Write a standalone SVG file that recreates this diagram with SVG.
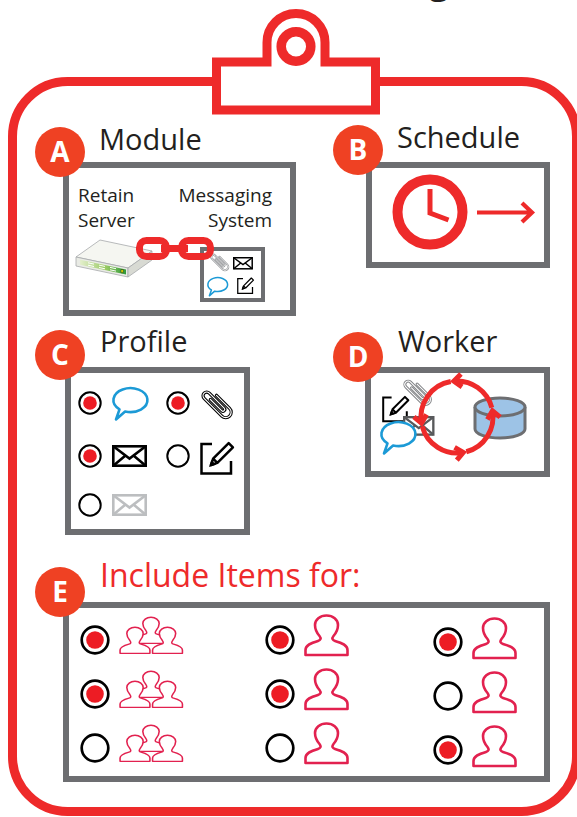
<svg xmlns="http://www.w3.org/2000/svg" xmlns:xlink="http://www.w3.org/1999/xlink" width="577" height="817" viewBox="0 0 577 817">
  <style>
    .hdr { font-family: "Open Sans", "Liberation Sans", sans-serif; font-size: 29px; fill: #231f20; }
    .lbl { font-family: "Open Sans", "Liberation Sans", sans-serif; font-size: 19px; fill: #231f20; }
    .badge circle { fill: #ef4123; }
    .badge text { font-family: "Open Sans", "Liberation Sans", sans-serif; font-size: 28px; font-weight: 700; fill: #fff; text-anchor: middle; }
    .box { fill: #fff; stroke: #6d6e71; stroke-width: 6; }
    .red { stroke: #ee2a2a; fill: none; }
    .rad { fill: #fff; stroke: #000; }
    .dot { fill: #ed1c24; }
    .person { fill: #fff; stroke: #e2214f; stroke-width: 2.6; stroke-linejoin: round; }
    .person.sm { stroke-width: 2.2; }
  </style>
  <defs>
    <linearGradient id="srvStrip" x1="0" y1="0" x2="1" y2="0">
      <stop offset="0" stop-color="#e4efcd"/>
      <stop offset="0.55" stop-color="#9ccb66"/>
      <stop offset="1" stop-color="#2f9a3b"/>
    </linearGradient>
    <!-- speech bubble, centred on the oval -->
    <g id="bubble">
      <path d="M-4.9,11.5 A17,12 0 1 0 -10.5,9.3 L-14,19.5 Z" fill="#fff" stroke="currentColor" stroke-width="2.6" stroke-linejoin="round"/>
    </g>
    <!-- envelope, 35 x 22 -->
    <g id="env" fill="none" stroke="currentColor" stroke-width="2.6">
      <rect x="1.3" y="1.3" width="32.4" height="19.4" fill="#fff"/>
      <path d="M1.3,1.3 L17.5,13.5 L33.7,1.3 M1.3,20.7 L13.5,10.5 M33.7,20.7 L21.5,10.5"/>
    </g>
    <!-- open square with pencil, 33 x 33 -->
    <g id="edit" fill="none" stroke="currentColor" stroke-width="2.5">
      <path d="M12,2 H1.5 V31.5 H31 V19"/>
      <path d="M11,23 L13.12,16.64 L28.68,1.08 L32.92,5.32 L17.36,20.88 Z M13.12,16.64 L17.36,20.88" fill="#fff" stroke-linejoin="round"/>
      <path d="M11,23 L11.9,20.3 L13.7,22.1 Z" fill="currentColor"/>
    </g>
    <!-- paperclip wire, drawn as an outlined wire -->
    <path id="clipWire" d="M-2.75,-10 L-2.75,14 A2.75,2.75 0 0 0 2.75,14 L2.75,-18 A5.5,5.5 0 0 0 -8.25,-18 L-8.25,20 A8.25,8.25 0 0 0 8.25,20 L8.25,-8"/>
    <g id="clip" fill="none" stroke-linecap="round">
      <use xlink:href="#clipWire" href="#clipWire" stroke="currentColor" stroke-width="5"/>
      <use xlink:href="#clipWire" href="#clipWire" stroke="#fff" stroke-width="1.8"/>
    </g>
    <!-- person silhouette, 45 x 41 -->
    <path id="person" d="M1.5,40 L1.5,35 C1.5,30 7,28 14,26 C16.5,25.3 17.5,23.5 15.5,21 C12.5,17.5 11,13.5 11,10 C11,4.5 16,0.5 22.5,0.5 C29,0.5 34,4.5 34,10 C34,13.5 32.5,17.5 29.5,21 C27.5,23.5 28.5,25.3 31,26 C38,28 43.5,30 43.5,35 L43.5,40 Z"/>
    <!-- group of three people, 64 x 37 -->
    <g id="group">
      <use xlink:href="#person" href="#person" class="person sm" transform="translate(16,0) scale(0.711,0.659)"/>
      <use xlink:href="#person" href="#person" class="person sm" transform="translate(0,10) scale(0.711,0.659)"/>
      <use xlink:href="#person" href="#person" class="person sm" transform="translate(32.5,10) scale(0.711,0.659)"/>
    </g>
  </defs>

  <!-- heading above the board (only its descender falls inside the frame) -->
  <text x="429" y="-7" font-family="'Open Sans', 'Liberation Sans', sans-serif" font-size="36" font-weight="700" fill="#231f20">g</text>

  <!-- clipboard -->
  <g id="clipboard">
    <rect x="12.5" y="81.5" width="564" height="730" rx="55" ry="55" fill="#fff" stroke="#ee2a2a" stroke-width="9"/>
    <path d="M216.5,62 L267,62 L267,42.5 A29,29 0 0 1 325,42.5 L325,62 L375.5,62 L375.5,110 L216.5,110 Z" fill="#fff" stroke="#ee2a2a" stroke-width="9"/>
    <circle cx="296" cy="46.5" r="14.8" fill="#fff" stroke="#ee2a2a" stroke-width="9.5"/>
  </g>

  <!-- A: Module -->
  <g id="module">
    <text class="hdr" x="99" y="150">Module</text>
    <rect class="box" x="66" y="165" width="227" height="148"/>
    <text class="lbl" x="78" y="202">Retain</text>
    <text class="lbl" x="78" y="227">Server</text>
    <text class="lbl" x="272" y="202" text-anchor="end">Messaging</text>
    <text class="lbl" x="272" y="227" text-anchor="end">System</text>
    <!-- server appliance -->
    <g id="server" stroke="#a7a9ac" stroke-width="0.8" stroke-linejoin="round">
      <polygon points="76,257 100,240 152,251 128,268" fill="#f5f6f1"/>
      <polygon points="76,257 128,268 128,277 76,266" fill="#e9ebe5"/>
      <polygon points="128,268 152,251 152,260 128,277" fill="#d8dad3"/>
      <polygon points="80,259.8 126,269.6 126,274.6 80,264.8" fill="url(#srvStrip)" stroke="none"/>
      <path d="M88,262.8 L94,264.1 M88,265.2 L94,266.5 M99,265.1 L105,266.4 M99,267.5 L105,268.8 M110,267.4 L116,268.7 M110,269.8 L116,271.1" stroke="#fff" stroke-width="1"/>
      <rect x="121" y="269.5" width="2.2" height="3.2" fill="#f5e400" stroke="#1d3f1f" stroke-width="0.6"/>
    </g>
    <!-- messaging system -->
    <rect x="202" y="249" width="61" height="51" fill="#fff" stroke="#6d6e71" stroke-width="4"/>
    <use xlink:href="#clip" href="#clip" color="#939598" transform="translate(220,262) rotate(-45) scale(0.4) translate(0,-2.4)"/>
    <use xlink:href="#env" href="#env" color="#000" transform="translate(233,257) scale(0.57)"/>
    <use xlink:href="#bubble" href="#bubble" color="#1c9ad6" transform="translate(217.5,284.5) scale(0.58)"/>
    <use xlink:href="#edit" href="#edit" color="#000" transform="translate(237,277.5) scale(0.5)"/>
    <!-- chain link -->
    <g id="chain" class="red" stroke-width="7">
      <rect x="139.5" y="240.5" width="27" height="16" rx="7"/>
      <rect x="181.5" y="240.5" width="29" height="16" rx="7"/>
      <line x1="161" y1="248.5" x2="188" y2="248.5" stroke-width="7"/>
    </g>
  </g>
  <g id="badge-a" class="badge"><circle cx="60" cy="152" r="25"/><text x="60" y="162">A</text></g>

  <!-- B: Schedule -->
  <g id="schedule">
    <text class="hdr" x="397" y="148">Schedule</text>
    <rect class="box" x="369" y="165" width="178" height="100"/>
    <circle cx="430" cy="212" r="32.5" fill="#fff" stroke="#ee2a2a" stroke-width="10"/>
    <path d="M430,189 L430,213 L448.5,220" class="red" stroke-width="5"/>
    <path d="M477,212.5 H532 M522,203 L532,212.5 L522,222" class="red" stroke-width="4.2"/>
  </g>
  <g id="badge-b" class="badge"><circle cx="358" cy="150" r="25"/><text x="358" y="160">B</text></g>

  <!-- C: Profile -->
  <g id="profile">
    <text class="hdr" x="100" y="352">Profile</text>
    <rect class="box" x="68" y="370" width="179" height="162"/>
    <g stroke-width="2">
      <circle class="rad" cx="90" cy="403" r="10.7"/><circle class="dot" cx="90" cy="403" r="6.8"/>
      <circle class="rad" cx="178" cy="403" r="10.7"/><circle class="dot" cx="178" cy="403" r="6.8"/>
      <circle class="rad" cx="90" cy="456" r="10.7"/><circle class="dot" cx="90" cy="456" r="6.8"/>
      <circle class="rad" cx="178" cy="456" r="10.7"/>
      <circle class="rad" cx="90" cy="505" r="10.7"/>
    </g>
    <use xlink:href="#bubble" href="#bubble" color="#1c9ad6" transform="translate(130,400)"/>
    <use xlink:href="#clip" href="#clip" color="#000" transform="translate(217.5,404) rotate(-45) scale(0.66) translate(0,-2.4)"/>
    <use xlink:href="#env" href="#env" color="#000" transform="translate(112,445)"/>
    <use xlink:href="#edit" href="#edit" color="#000" transform="translate(200,442)"/>
    <use xlink:href="#env" href="#env" color="#bcbec0" transform="translate(112,494)"/>
  </g>
  <g id="badge-c" class="badge"><circle cx="60" cy="355" r="25"/><text x="60" y="365">C</text></g>

  <!-- D: Worker -->
  <g id="worker">
    <text class="hdr" x="398" y="352">Worker</text>
    <rect class="box" x="368" y="370" width="179" height="104"/>
    <use xlink:href="#edit" href="#edit" color="#000" transform="translate(382,396) scale(0.8)"/>
    <use xlink:href="#clip" href="#clip" color="#808285" transform="translate(418,392) rotate(-45) scale(0.6) translate(0,-2.4)"/>
    <use xlink:href="#env" href="#env" color="#58595b" transform="translate(403,416) scale(0.9)"/>
    <use xlink:href="#bubble" href="#bubble" color="#1c9ad6" transform="translate(398,434)"/>
    <!-- database -->
    <path d="M475,407 V429 A25,9 0 0 0 525,429 V407" fill="#9dc3e6" stroke="#6d6e71" stroke-width="3"/>
    <ellipse cx="500" cy="407" rx="25" ry="9" fill="#9dc3e6" stroke="#6d6e71" stroke-width="3"/>
    <!-- processing cycle -->
    <g class="red" stroke-width="5" stroke-linejoin="miter">
      <path d="M466.32,451.77 A36,36 0 0 0 492.45,410.75"/>
      <path d="M491.77,407.68 A36,36 0 0 0 453.86,381.14"/>
      <path d="M450.75,381.55 A36,36 0 0 0 421.55,423.25"/>
      <path d="M422.23,426.32 A36,36 0 0 0 463.25,452.45"/>
      <path d="M462.05,386.88 L453.86,381.14 L460.93,374.07"/>
      <path d="M426.55,414.59 L421.55,423.25 L413.89,416.82"/>
      <path d="M454.59,447.45 L463.25,452.45 L456.82,460.11"/>
      <path d="M487.45,419.41 L492.45,410.75 L500.11,417.18"/>
    </g>
  </g>
  <g id="badge-d" class="badge"><circle cx="358" cy="357" r="25"/><text x="358" y="367">D</text></g>

  <!-- E: Include Items for -->
  <g id="include">
    <text class="hdr" x="100" y="587" style="fill:#ee2a2a;font-size:32px">Include Items for:</text>
    <rect class="box" x="66" y="605" width="481" height="174"/>
    <g stroke-width="2.7">
      <circle class="rad" cx="95" cy="640" r="13.3"/><circle class="dot" cx="95" cy="640" r="8.8"/>
      <circle class="rad" cx="95" cy="694" r="13.3"/><circle class="dot" cx="95" cy="694" r="8.8"/>
      <circle class="rad" cx="95" cy="748" r="13.3"/>
      <circle class="rad" cx="280" cy="640" r="13.3"/><circle class="dot" cx="280" cy="640" r="8.8"/>
      <circle class="rad" cx="280" cy="694" r="13.3"/><circle class="dot" cx="280" cy="694" r="8.8"/>
      <circle class="rad" cx="280" cy="748" r="13.3"/>
      <circle class="rad" cx="448" cy="642" r="13.3"/><circle class="dot" cx="448" cy="642" r="8.8"/>
      <circle class="rad" cx="448" cy="696" r="13.3"/>
      <circle class="rad" cx="448" cy="750" r="13.3"/><circle class="dot" cx="448" cy="750" r="8.8"/>
    </g>
    <use xlink:href="#group" href="#group" transform="translate(119,617)"/>
    <use xlink:href="#group" href="#group" transform="translate(119,671)"/>
    <use xlink:href="#group" href="#group" transform="translate(119,725)"/>
    <use xlink:href="#person" href="#person" class="person" transform="translate(304,615)"/>
    <use xlink:href="#person" href="#person" class="person" transform="translate(304,669)"/>
    <use xlink:href="#person" href="#person" class="person" transform="translate(304,723)"/>
    <use xlink:href="#person" href="#person" class="person" transform="translate(472,618)"/>
    <use xlink:href="#person" href="#person" class="person" transform="translate(472,672)"/>
    <use xlink:href="#person" href="#person" class="person" transform="translate(472,726)"/>
  </g>
  <g id="badge-e" class="badge"><circle cx="60" cy="592" r="25"/><text x="60" y="602">E</text></g>
</svg>
